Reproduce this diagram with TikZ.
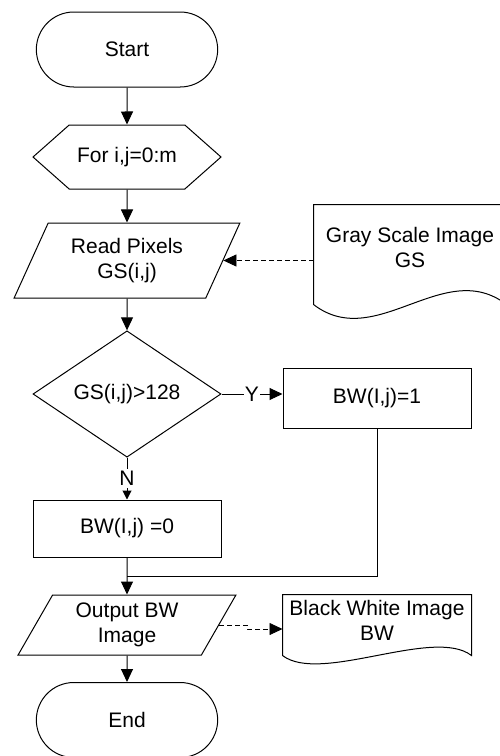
\documentclass[tikz,border=0pt]{standalone}
\usepackage{fontspec}
\setmainfont{Liberation Sans}
\usetikzlibrary{arrows.meta,shapes.geometric,shapes.misc,shapes.symbols,calc}

\begin{document}
\begin{tikzpicture}[x=1pt,y=1pt,line width=1pt,>={Triangle[length=13pt,width=12pt]},
    font=\fontsize{21}{25}\selectfont]

      \tikzstyle{term}=[rounded rectangle,draw,minimum width=188pt,minimum height=75pt]
      \tikzstyle{loopbox}=[signal,signal to=west and east,signal pointer angle=83,draw,minimum width=188pt,minimum height=64pt]
      \tikzstyle{io}=[trapezium,trapezium left angle=63.4,trapezium right angle=116.6,trapezium stretches=true,draw,align=center]
      \tikzstyle{decision}=[diamond,draw,minimum width=188pt,minimum height=112pt,inner sep=0pt]
      \tikzstyle{act}=[rectangle,draw,minimum width=188pt]
      \tikzstyle{doc}=[rectangle,align=center,inner sep=0pt]
      \tikzstyle{data}=[->,dash pattern=on 5pt off 3pt,line width=0.8pt]
      \tikzstyle{tip}=[-{Triangle[length=9pt,width=9pt]}]

      \useasboundingbox (0,0) rectangle (500,-756);

        \node [term] (start) at (127,-49.5) {Start};
        \node [loopbox] (for) [below of=start, node distance=107.5pt] {For i,j=0:m}
            edge [<-] (start);
        \node [io, minimum width=226pt, minimum height=75pt] (read) [below of=for, node distance=103.5pt] {Read Pixels\\GS(i,j)}
            edge [<-] (for);
        \node [decision] (test) [below of=read, node distance=133.5pt] {GS(i,j)>128}
            edge [<-] (read);
        \node [act, minimum height=57pt] (zero) [below of=test, node distance=134.5pt] {BW(I,j) =0};
        \node [io, minimum width=218pt, minimum height=60pt] (out) [below of=zero, node distance=96.5pt] {Output BW\\Image};
        \node [term] (stop) [below of=out, node distance=95pt] {End}
            edge [<-] (out);

        % the two sides of the test
        \node [act, minimum height=60pt] (one) [right of=test, node distance=250pt, yshift=-4pt] {BW(I,j)=1};
        \draw [->] (test.east) -- node [fill=white, inner sep=1pt] {Y} (test.east -| one.west);
        \draw [tip] (test.south) -- node [fill=white, inner sep=2pt] {N} (zero.north);

        \coordinate (join) at ($(zero.south)!0.5!(out.north)$);
        \draw [->] (zero.south) -- (out.north);
        \draw (one.south) |- (join);

        % image files, wavy bottom edge
        \node [doc, minimum width=192pt, minimum height=85pt] (gsimg) [right of=read, node distance=283pt, yshift=13pt] {Gray Scale Image\\GS};
        \node [doc, minimum width=188pt, minimum height=51pt] (bwimg) [right of=out, node distance=250pt, yshift=4.5pt] {Black White Image\\BW};
        \foreach \d/\e/\a in {gsimg/14/48, bwimg/9/29}
            \draw ($(\d.south west)+(0,-\e)$) -- (\d.north west) -- (\d.north east) -- ($(\d.south east)+(0,-\e)$)
                .. controls +(-\a*1.3,\a) and +(\a*1.3,-\a) .. ($(\d.south west)+(0,-\e)$);

        \draw [data] (gsimg.west |- read.east) -- (read.east);
        \draw [data] (out.east) -- ++(28,0) |- ([yshift=-8.5pt]bwimg.west);

\end{tikzpicture}
\end{document}
